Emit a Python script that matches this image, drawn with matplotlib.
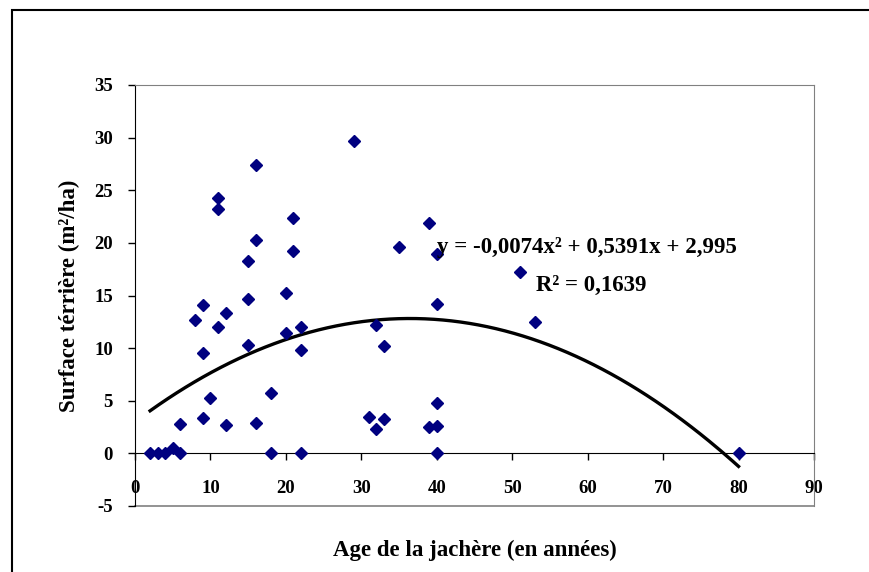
import numpy as np
import matplotlib.pyplot as plt
from matplotlib.patches import Rectangle

# Age de la jachère (années) et surface terrière (m²/ha)
age = [2, 3, 4, 5, 6, 6, 8, 9, 9, 9, 10, 11, 11, 11, 12, 12,
       15, 15, 15, 16, 16, 16, 18, 18, 20, 20, 21, 21, 22, 22, 22,
       29, 31, 32, 32, 33, 33, 35, 39, 39, 40, 40, 40, 40, 40,
       51, 53, 80]
surface = [0, 0, 0, 0.5, 0, 2.8, 12.7, 14.1, 9.5, 3.4, 5.3, 24.3, 23.2, 12.0, 13.3, 2.7,
           18.3, 14.7, 10.3, 27.4, 20.3, 2.9, 5.7, 0, 15.2, 11.4, 22.4, 19.2, 12.0, 9.8, 0,
           29.7, 3.5, 12.2, 2.3, 10.2, 3.3, 19.6, 21.9, 2.5, 18.9, 14.2, 4.8, 2.6, 0,
           17.2, 12.5, 0]

# courbe de tendance polynomiale (ordre 2) affichée sur le graphique
coef = [-0.0074, 0.5391, 2.995]
x_ticks = [0, 10, 20, 30, 40, 50, 60, 70, 80, 90]
y_ticks = [-5, 0, 5, 10, 15, 20, 25, 30, 35]

W, H = 870, 572
fig = plt.figure(figsize=(W / 100, H / 100), dpi=100)
ax = fig.add_axes([135 / W, (H - 506) / H, (814 - 135) / W, (506 - 85) / H])

font = {'family': 'Liberation Serif', 'weight': 'bold'}

# cadre gris, axe vertical noir, axe horizontal sur y = 0
# (set_position remet les ticks à zéro, donc avant les étiquettes)
ax.spines['bottom'].set_position(('data', 0))
ax.spines['bottom'].set_color('black')
ax.spines['top'].set_color('#808080')
ax.spines['right'].set_color('#808080')
ax.spines['left'].set_color('black')
ax.plot([0, 1], [0, 0], transform=ax.transAxes, color='#808080', lw=1.2,
        clip_on=False, zorder=1)

xf = np.linspace(min(age), max(age), 200)
yf = np.polyval(coef, xf)
ax.plot(xf, yf, color='black', lw=2.4, zorder=2)
ax.plot(age, surface, linestyle='none', marker='D', markersize=6.5,
        color='#000080', zorder=3)

ax.set_xlim(0, 90)
ax.set_ylim(-5, 35)
ax.set_xticks(x_ticks)
ax.set_yticks(y_ticks)
ax.set_xticklabels([str(v) for v in x_ticks], fontdict=font, fontsize=13.5)
ax.set_yticklabels([str(v) for v in y_ticks], fontdict=font, fontsize=13.5)
ax.tick_params(axis='x', direction='out', length=5, width=1, pad=14)
ax.tick_params(axis='y', direction='out', length=5, width=1, pad=11)

ax.set_xlabel('Age de la jachère (en années)', fontdict=font, fontsize=16.5, labelpad=31)
ax.set_ylabel('Surface térrière (m²/ha)', fontdict=font, fontsize=16.5, labelpad=10)

ax.text(40, 19.6, 'y = -0,0074x² + 0,5391x + 2,995', fontdict=font, fontsize=16.5,
        va='center', ha='left')
ax.text(53.1, 16.0, 'R² = 0,1639', fontdict=font, fontsize=16.5, va='center', ha='left')

# bordure extérieure du graphique
fig.add_artist(Rectangle((12 / W, -0.05), 1.1, (H - 10) / H + 0.05,
                         transform=fig.transFigure, fill=False,
                         edgecolor='black', lw=1.5))

fig.savefig('out.png', dpi=100)
